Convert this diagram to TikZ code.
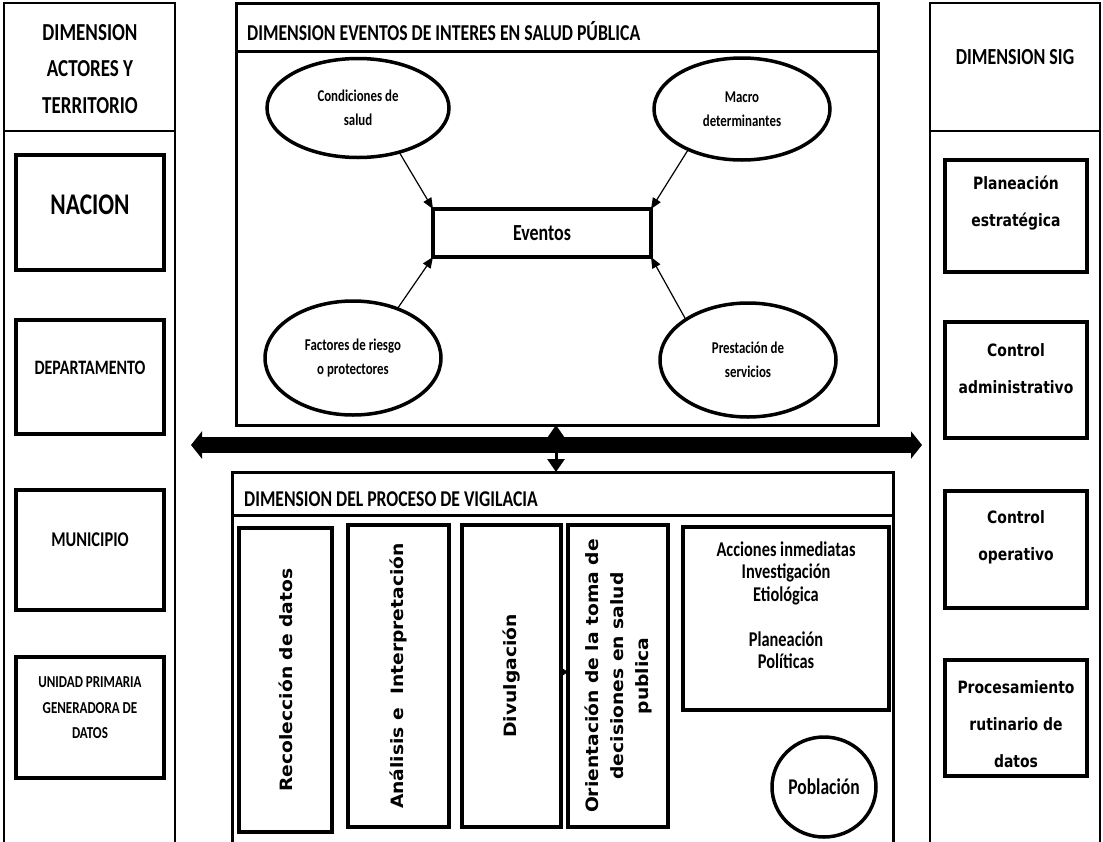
\documentclass[tikz,border=0pt]{standalone}
\usepackage{fontspec}
\setmainfont{Carlito}[FakeStretch=0.78]
\newfontfamily\dvfont{DejaVu Sans}[FakeStretch=0.82]
\newfontfamily\dvvert{DejaVu Sans}[FakeStretch=1.1]
\usetikzlibrary{arrows.meta,shapes.geometric}
\tikzset{
  col/.style={draw, line width=2.5pt, rectangle, inner sep=0pt, outer sep=0pt},
  ibox/.style={draw, line width=3.5pt, rectangle, inner sep=0pt, outer sep=0pt},
  ell/.style={draw, ellipse, line width=3.5pt, inner sep=0pt, outer sep=0pt, align=center},
  lbl/.style={align=center, inner sep=0pt},
  vtxt/.style={align=center, inner sep=0pt, rotate=90, font=\dvvert\bfseries\fontsize{17}{25}\selectfont},
  sigtxt/.style={align=center, inner sep=0pt, font=\dvfont\bfseries\fontsize{17}{37}\selectfont},
  elltxt/.style={font=\bfseries\fontsize{16.5}{23.5}\selectfont},
  thinarr/.style={line width=1.2pt, -{Triangle[length=11pt,width=9pt]}},
  bigarr/.style={line width=16pt, {Triangle[length=11pt,width=27pt]}-{Triangle[length=11pt,width=27pt]}},
  midarr/.style={line width=3pt, {Triangle[length=13pt,width=17pt]}-{Triangle[length=13pt,width=17pt]}},
}
\begin{document}
\begin{tikzpicture}[x=1pt,y=-1pt]
\clip (0,0) rectangle (1103,841);
\fill[white] (0,0) rectangle (1103,841);
% ---------- left column ----------
\node[col, minimum width=171, minimum height=880, anchor=north west] (lcol) at (4,3) {};
\draw[line width=2.5pt] (lcol.west |- 0,131) -- (lcol.east |- 0,131);
\node[lbl, font=\bfseries\fontsize{24.4}{36.5}\selectfont] (lhead) at (90,69) {DIMENSION\\ACTORES Y\\TERRITORIO};
\node[ibox, minimum width=148, minimum height=115] (nac) at (90,212.5) {};
\node[lbl, font=\bfseries\fontsize{30}{30}\selectfont] (nact) at (90,205) {NACION};
\node[ibox, minimum width=148, minimum height=114] (dep) at (90,377) {};
\node[lbl, font=\bfseries\fontsize{20.5}{22}\selectfont] (dept) at (90,368) {DEPARTAMENTO};
\node[ibox, minimum width=148, minimum height=120] (mun) at (90,550) {};
\node[lbl, font=\bfseries\fontsize{21}{22}\selectfont] (munt) at (90,540) {MUNICIPIO};
\node[ibox, minimum width=148, minimum height=121] (upg) at (90,717.5) {};
\node[lbl, font=\bfseries\fontsize{16.7}{25.5}\selectfont] (upgt) at (90,708) {UNIDAD PRIMARIA\\GENERADORA DE\\DATOS};
% ---------- right column ----------
\node[col, minimum width=170, minimum height=880, anchor=north west] (rcol) at (930,3) {};
\draw[line width=2.5pt] (rcol.west |- 0,131) -- (rcol.east |- 0,131);
\node[lbl, font=\bfseries\fontsize{23}{24}\selectfont] (rhead) at (1015,57) {DIMENSION SIG};
\node[ibox, minimum width=142, minimum height=112] (pe) at (1016,216) {};
\node[sigtxt] (pet) at (1016,203) {Planeación\\estratégica};
\node[ibox, minimum width=142, minimum height=116] (ca) at (1016,380) {};
\node[sigtxt] (cat) at (1016,369) {Control\\administrativo};
\node[ibox, minimum width=142, minimum height=117] (co) at (1016,549.5) {};
\node[sigtxt] (cot) at (1016,537) {Control\\operativo};
\node[ibox, minimum width=142, minimum height=116] (prd) at (1016,718) {};
\node[sigtxt] (prdt) at (1016,724) {Procesamiento\\rutinario de\\datos};
% ---------- top middle box ----------
\node[col, line width=3pt, minimum width=642, minimum height=422, anchor=north west] (topbox) at (236,3) {};
\draw[line width=3pt] (topbox.west |- 0,51) -- (topbox.east |- 0,51);
\node[lbl, anchor=west, font=\bfseries\fontsize{22.7}{24}\selectfont] (toptitle) at (247,31) {DIMENSION EVENTOS DE INTERES EN SALUD PÚBLICA};
\node[ell, elltxt, minimum width=182, minimum height=99] (cond) at (358,108) {Condiciones de\\salud};
\node[ell, elltxt, minimum width=176, minimum height=102] (macro) at (742,109) {Macro\\determinantes};
\node[ell, elltxt, minimum width=176, minimum height=114] (fact) at (353,358) {Factores de riesgo\\o protectores};
\node[ell, elltxt, minimum width=176, minimum height=114] (prest) at (748,360) {Prestación de\\servicios};
\node[ibox, minimum width=218, minimum height=48, font=\bfseries\fontsize{23}{24}\selectfont] (ev) at (542,233) {Eventos};
\draw[thinarr] (cond.-47) -- (ev.north west);
\draw[thinarr] (macro.-143) -- (ev.north east);
\draw[thinarr] (fact.48) -- (ev.south west);
\draw[thinarr] (prest.147) -- (ev.south east);
% ---------- bottom middle box ----------
\node[col, line width=3pt, minimum width=661, minimum height=420, anchor=north west] (botbox) at (232,472) {};
\draw[line width=3pt] (botbox.west |- 0,515) -- (botbox.east |- 0,515);
\node[lbl, anchor=west, font=\bfseries\fontsize{22.6}{24}\selectfont] (bottitle) at (244,499) {DIMENSION DEL PROCESO DE VIGILACIA};
\node[ibox, minimum width=93, minimum height=304] (rec) at (285.5,680) {};
\node[vtxt] (rect) at (rec.center) {Recolección de datos};
\node[ibox, minimum width=101, minimum height=302] (ana) at (398.5,676) {};
\node[vtxt] (anat) at (ana.center) {Análisis e\ \ Interpretación};
\node[ibox, minimum width=99, minimum height=302] (div) at (511.5,676) {};
\node[vtxt] (divt) at (div.center) {Divulgación};
\node[ibox, minimum width=100, minimum height=302] (ori) at (618,676) {};
\node[vtxt] (orit) at (ori.center) {Orientación de la toma de\\decisiones en salud\\publica};
\draw[line width=1pt, -{Triangle[length=7pt,width=9pt]}] ([yshift=4pt]div.east) -- ([yshift=4pt]ori.west);
\node[ibox, minimum width=206, minimum height=183] (acc) at (786,618.5) {};
\node[lbl, font=\bfseries\fontsize{21}{22.5}\selectfont] (acct) at (786,605) {Acciones inmediatas\\Investigación\\Etiológica\\[22.5pt]Planeación\\Políticas};
\node[ell, minimum width=104, minimum height=100, font=\bfseries\fontsize{22.5}{24}\selectfont] (pob) at (824,787) {Población};
% ---------- connectors between dimensions ----------
\coordinate (hl) at (191,445);
\coordinate (hr) at (922,445);
\draw[bigarr] (hl) -- (hr);
\coordinate (vt) at (556,425);
\coordinate (vb) at (556,472);
\draw[midarr] (vt) -- (vb);
\end{tikzpicture}
\end{document}
